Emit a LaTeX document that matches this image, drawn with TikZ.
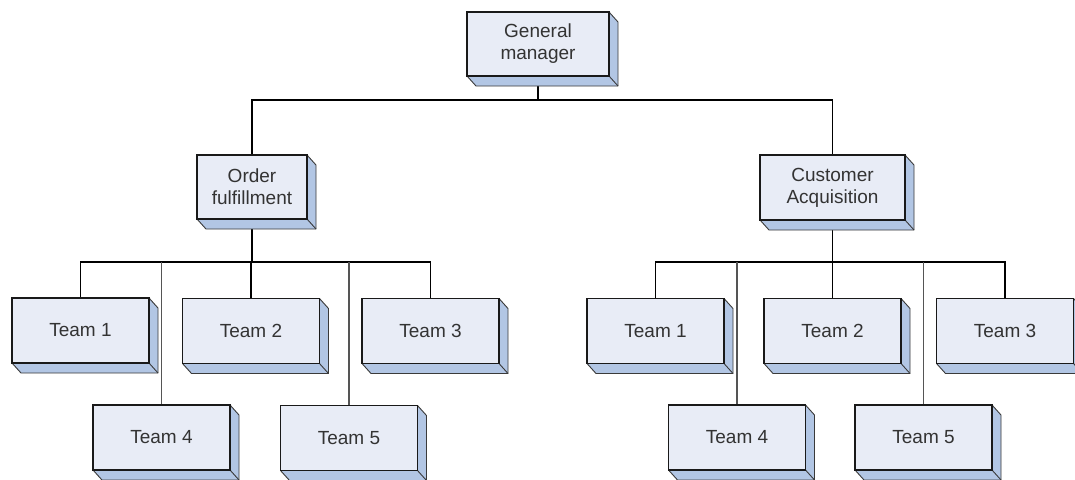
\documentclass[tikz,border=0pt]{standalone}
\usepackage{fontspec}
\setmainfont{Liberation Sans}
\usetikzlibrary{backgrounds}
\definecolor{faceblue}{HTML}{E8ECF6}
\definecolor{sideblue}{HTML}{B2C6E4}
\definecolor{edgegray}{HTML}{3A3A3A}
\definecolor{labelgray}{HTML}{333333}
\definecolor{wiregray}{HTML}{555555}
\tikzset{
  orgbox/.style={rectangle, draw=black!90, line width=1.6pt, fill=faceblue,
    inner sep=0pt, outer sep=0pt, align=center, text=labelgray,
    font=\fontsize{19}{22}\selectfont},
  teambox/.style={orgbox, minimum width=137pt, minimum height=65pt},
  extrude/.style={fill=sideblue, draw=edgegray, line width=0.9pt, line join=round},
  wire/.style={draw=black, line width=1.3pt},
  stem/.style={draw=black, line width=2pt},
  thinwire/.style={draw=wiregray, line width=1.2pt},
}
% extrusion of a box to the lower right
\newcommand{\boxdepth}[1]{%
  \path[extrude] (#1.north east) -- ++(9,10) -- ([shift={(9,10)}]#1.south east)
    -- ([shift={(9,10)}]#1.south west) -- (#1.south west) -- (#1.south east) -- cycle;
  \draw[edgegray, line width=0.9pt] (#1.south east) -- ++(9,10);
}
\begin{document}
\begin{tikzpicture}[x=1pt, y=-1pt]
\clip (0,0) rectangle (1075,479);

% top level
\node[orgbox, minimum width=142pt, minimum height=64pt] (gm) at (538,44) {General\\manager};
\node[orgbox, minimum width=110pt, minimum height=64pt] (of) at (252,187) {Order\\fulfillment};
\node[orgbox, minimum width=145pt, minimum height=65pt] (ca) at (832.5,187.5) {Customer\\Acquisition};

% order fulfillment teams
\node[teambox] (lt1) at (80.5,330.5) {Team 1};
\node[teambox] (lt2) at (251,331) {Team 2};
\node[teambox] (lt3) at (430.5,331) {Team 3};
\node[teambox] (lt4) at (161.5,437.5) {Team 4};
\node[teambox] (lt5) at (349,438) {Team 5};

% customer acquisition teams
\node[teambox] (rt1) at (655.5,331) {Team 1};
\node[teambox] (rt2) at (832.5,331) {Team 2};
\node[teambox] (rt3) at (1005,331) {Team 3};
\node[teambox] (rt4) at (737,437.5) {Team 4};
\node[teambox] (rt5) at (923.5,437.5) {Team 5};

\coordinate (topbus) at (0,100);
\coordinate (teambus) at (0,262);

\begin{pgfonlayer}{background}
  \fill[white] (0,0) rectangle (1075,479);

  % general manager to departments
  \draw[wire] (gm.south) -- (gm.south |- topbus);
  \draw[wire] (of.north) -- (of.north |- topbus) -- (ca.north |- topbus) -- (ca.north);

  % order fulfillment to its teams
  \draw[stem] (of.south) -- (of.south |- teambus);
  \draw[wire] (lt1.north) -- (lt1.north |- teambus) -- (lt3.north |- teambus) -- (lt3.north);
  \draw[wire] (lt2.north) -- (lt2.north |- teambus);
  \draw[thinwire] (lt4.north) -- (lt4.north |- teambus);
  \draw[thinwire] (lt5.north) -- (lt5.north |- teambus);

  % customer acquisition to its teams
  \draw[wire] (ca.south) -- (ca.south |- teambus);
  \draw[wire] (rt1.north) -- (rt1.north |- teambus) -- (rt3.north |- teambus) -- (rt3.north);
  \draw[wire] (rt2.north) -- (rt2.north |- teambus);
  \draw[thinwire] (rt4.north) -- (rt4.north |- teambus);
  \draw[thinwire] (rt5.north) -- (rt5.north |- teambus);

  % box depth
  \foreach \b in {gm,of,ca,lt1,lt2,lt3,lt4,lt5,rt1,rt2,rt3,rt4,rt5} {\boxdepth{\b}}
\end{pgfonlayer}
\end{tikzpicture}
\end{document}
